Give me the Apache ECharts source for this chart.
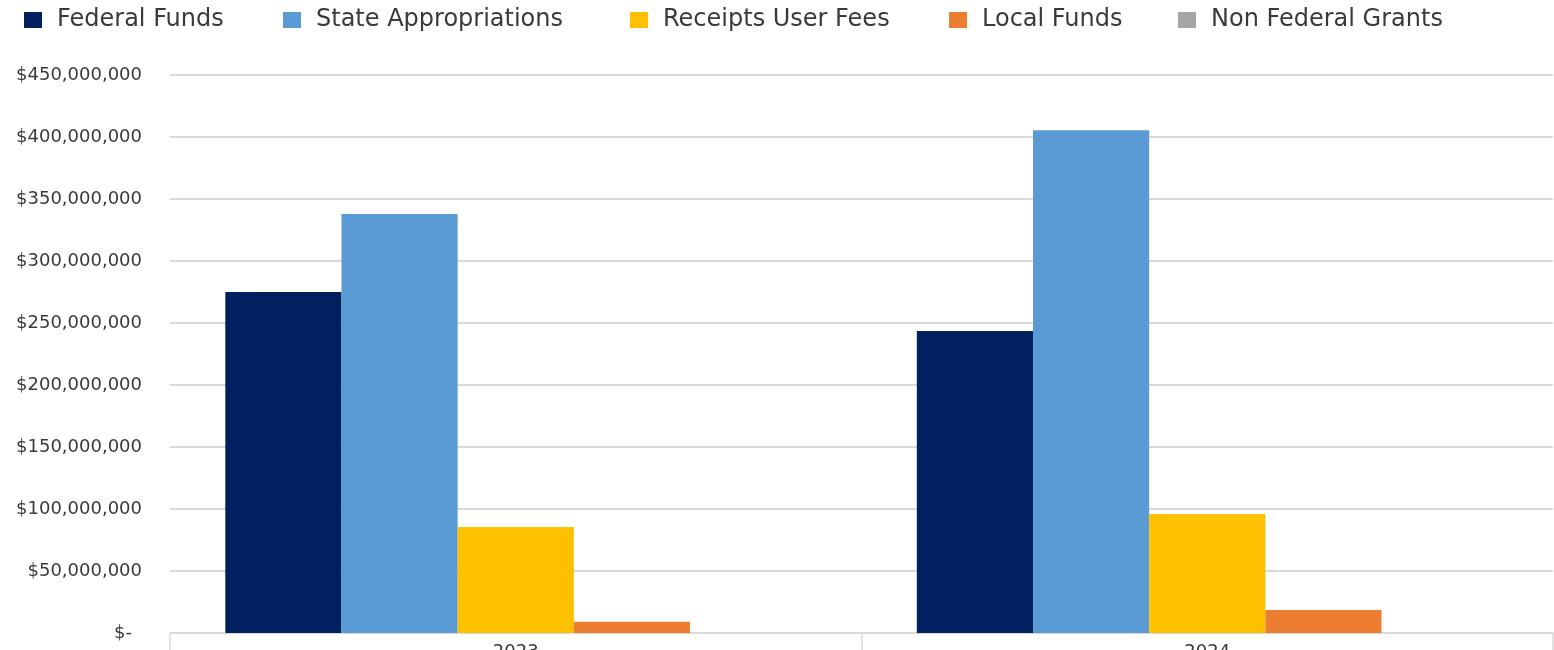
<!DOCTYPE html>
<html>
<head>
<meta charset="utf-8">
<script src="https://cdn.jsdelivr.net/npm/echarts@6/dist/echarts.min.js"></script>
<style>
  html, body { margin: 0; padding: 0; background: #fff; }
  #chart { width: 1554px; height: 650px; }
</style>
</head>
<body>
<div id="chart"></div>
<script>
// data
var years = ['2023', '2024'];
var federalFunds = [275000000, 243500000];
var stateAppropriations = [338000000, 405500000];
var receiptsUserFees = [85500000, 96000000];
var localFunds = [9000000, 18500000];
var nonFederalGrants = [0, 0];
var seriesNames = ['Federal Funds', 'State Appropriations', 'Receipts User Fees', 'Local Funds', 'Non Federal Grants'];
var seriesColors = ['#002060', '#5B9BD5', '#FFC000', '#ED7D31', '#A5A5A5'];

// Excel accounting style labels
function money(v) {
    if (v == 0) return '{z|$-}';
    return '$' + String(v).replace(/\B(?=(\d{3})+(?!\d))/g, ',');
}

var chart = echarts.init(document.getElementById('chart'));
var allData = [federalFunds, stateAppropriations, receiptsUserFees, localFunds, nonFederalGrants];
var series = [];
for (var i = 0; i < seriesNames.length; i++) {
    series.push({
        name: seriesNames[i],
        type: 'bar',
        data: allData[i],
        barGap: '0%',
        barCategoryGap: '16%',
        itemStyle: { color: seriesColors[i] }
    });
}

// one legend per item so each sits where it does in the picture
var legendLeft = [24, 283, 630, 949, 1178];
var legends = [];
for (var j = 0; j < seriesNames.length; j++) {
    legends.push({
        top: 8,
        left: legendLeft[j],
        padding: 0,
        itemWidth: 18,
        itemHeight: 16,
        icon: 'rect',
        textStyle: { fontSize: 24, color: '#3a3a3a', fontFamily: 'DejaVu Sans', padding: [2, 0, 0, 10] },
        data: [seriesNames[j]]
    });
}

var option = {
    animation: false,
    textStyle: { fontFamily: 'DejaVu Sans' },
    legend: legends,
    grid: { left: 170, right: 1, top: 75, bottom: 17, outerBoundsMode: 'none' },
    xAxis: {
        type: 'category',
        data: years,
        axisLine: { lineStyle: { color: '#D9D9D9', width: 1.5 } },
        axisTick: { show: true, length: 30, lineStyle: { color: '#D9D9D9', width: 1.5 } },
        axisLabel: { fontSize: 18, color: '#3a3a3a', margin: 10 }
    },
    yAxis: {
        type: 'value',
        min: 0,
        max: 450000000,
        interval: 50000000,
        axisLine: { show: false },
        axisTick: { show: false },
        splitLine: { lineStyle: { color: '#D9D9D9', width: 2 } },
        axisLabel: {
            fontSize: 18, color: '#3a3a3a', margin: 28, formatter: money,
            rich: { z: { fontSize: 18, color: '#3a3a3a', padding: [0, 10, 0, 0] } }
        }
    },
    series: series
};
chart.setOption(option);
</script>
</body>
</html>
